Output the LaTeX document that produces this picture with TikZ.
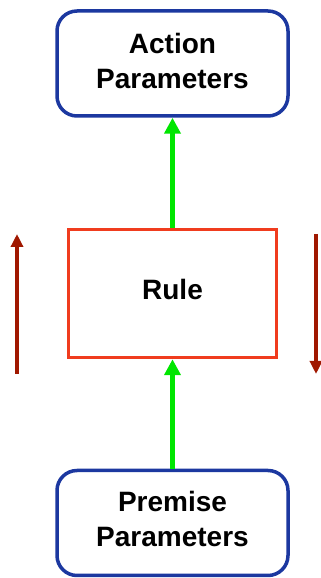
\documentclass[tikz,border=0pt]{standalone}
\usepackage{fontspec}
\setmainfont{Liberation Sans}
\usetikzlibrary{arrows.meta}
\definecolor{boxblue}{RGB}{28,56,160}
\definecolor{rulered}{RGB}{240,60,30}
\definecolor{flowgreen}{RGB}{0,230,0}
\definecolor{darkred}{RGB}{160,24,0}
\tikzset{
  labeltext/.style={font=\fontsize{28}{35}\selectfont\bfseries, align=center, inner sep=0pt},
  parbox/.style={draw=boxblue, line width=3.5pt, rounded corners=20pt, fill=white,
    minimum width=231pt, minimum height=105pt, inner sep=0pt},
  rulebox/.style={draw=rulered, line width=3.5pt, fill=white,
    minimum width=208pt, minimum height=128pt, inner sep=0pt},
  flow/.style={draw=flowgreen, line width=5pt, -{Triangle[length=16pt,width=16pt]}},
  dir/.style={draw=darkred, line width=3.5pt, -{Triangle[length=13pt,width=12pt]}}
}
\begin{document}
\begin{tikzpicture}[x=1pt,y=1pt]
\useasboundingbox (0,0) rectangle (321,578);
\node[parbox] (act) at (172.5,578-63.5) {};
\node[labeltext] (actt) at (172.5,578-61) {Action\\Parameters};
\node[rulebox] (rule) at (172.5,578-293.5) {};
\node[labeltext] (rulet) at (172.5,578-289) {Rule};
\node[parbox] (prem) at (172.5,578-523) {};
\node[labeltext] (premt) at (172.5,578-519) {Premise\\Parameters};
\draw[flow] (rule.north) -- (act.south);
\draw[flow] (prem.north) -- (rule.south);
\coordinate (l1) at (17,578-374);
\coordinate (l2) at (17,578-234);
\coordinate (r1) at (316,578-234);
\coordinate (r2) at (316,578-374);
\draw[dir] (l1) -- (l2);
\draw[dir] (r1) -- (r2);
\end{tikzpicture}
\end{document}
